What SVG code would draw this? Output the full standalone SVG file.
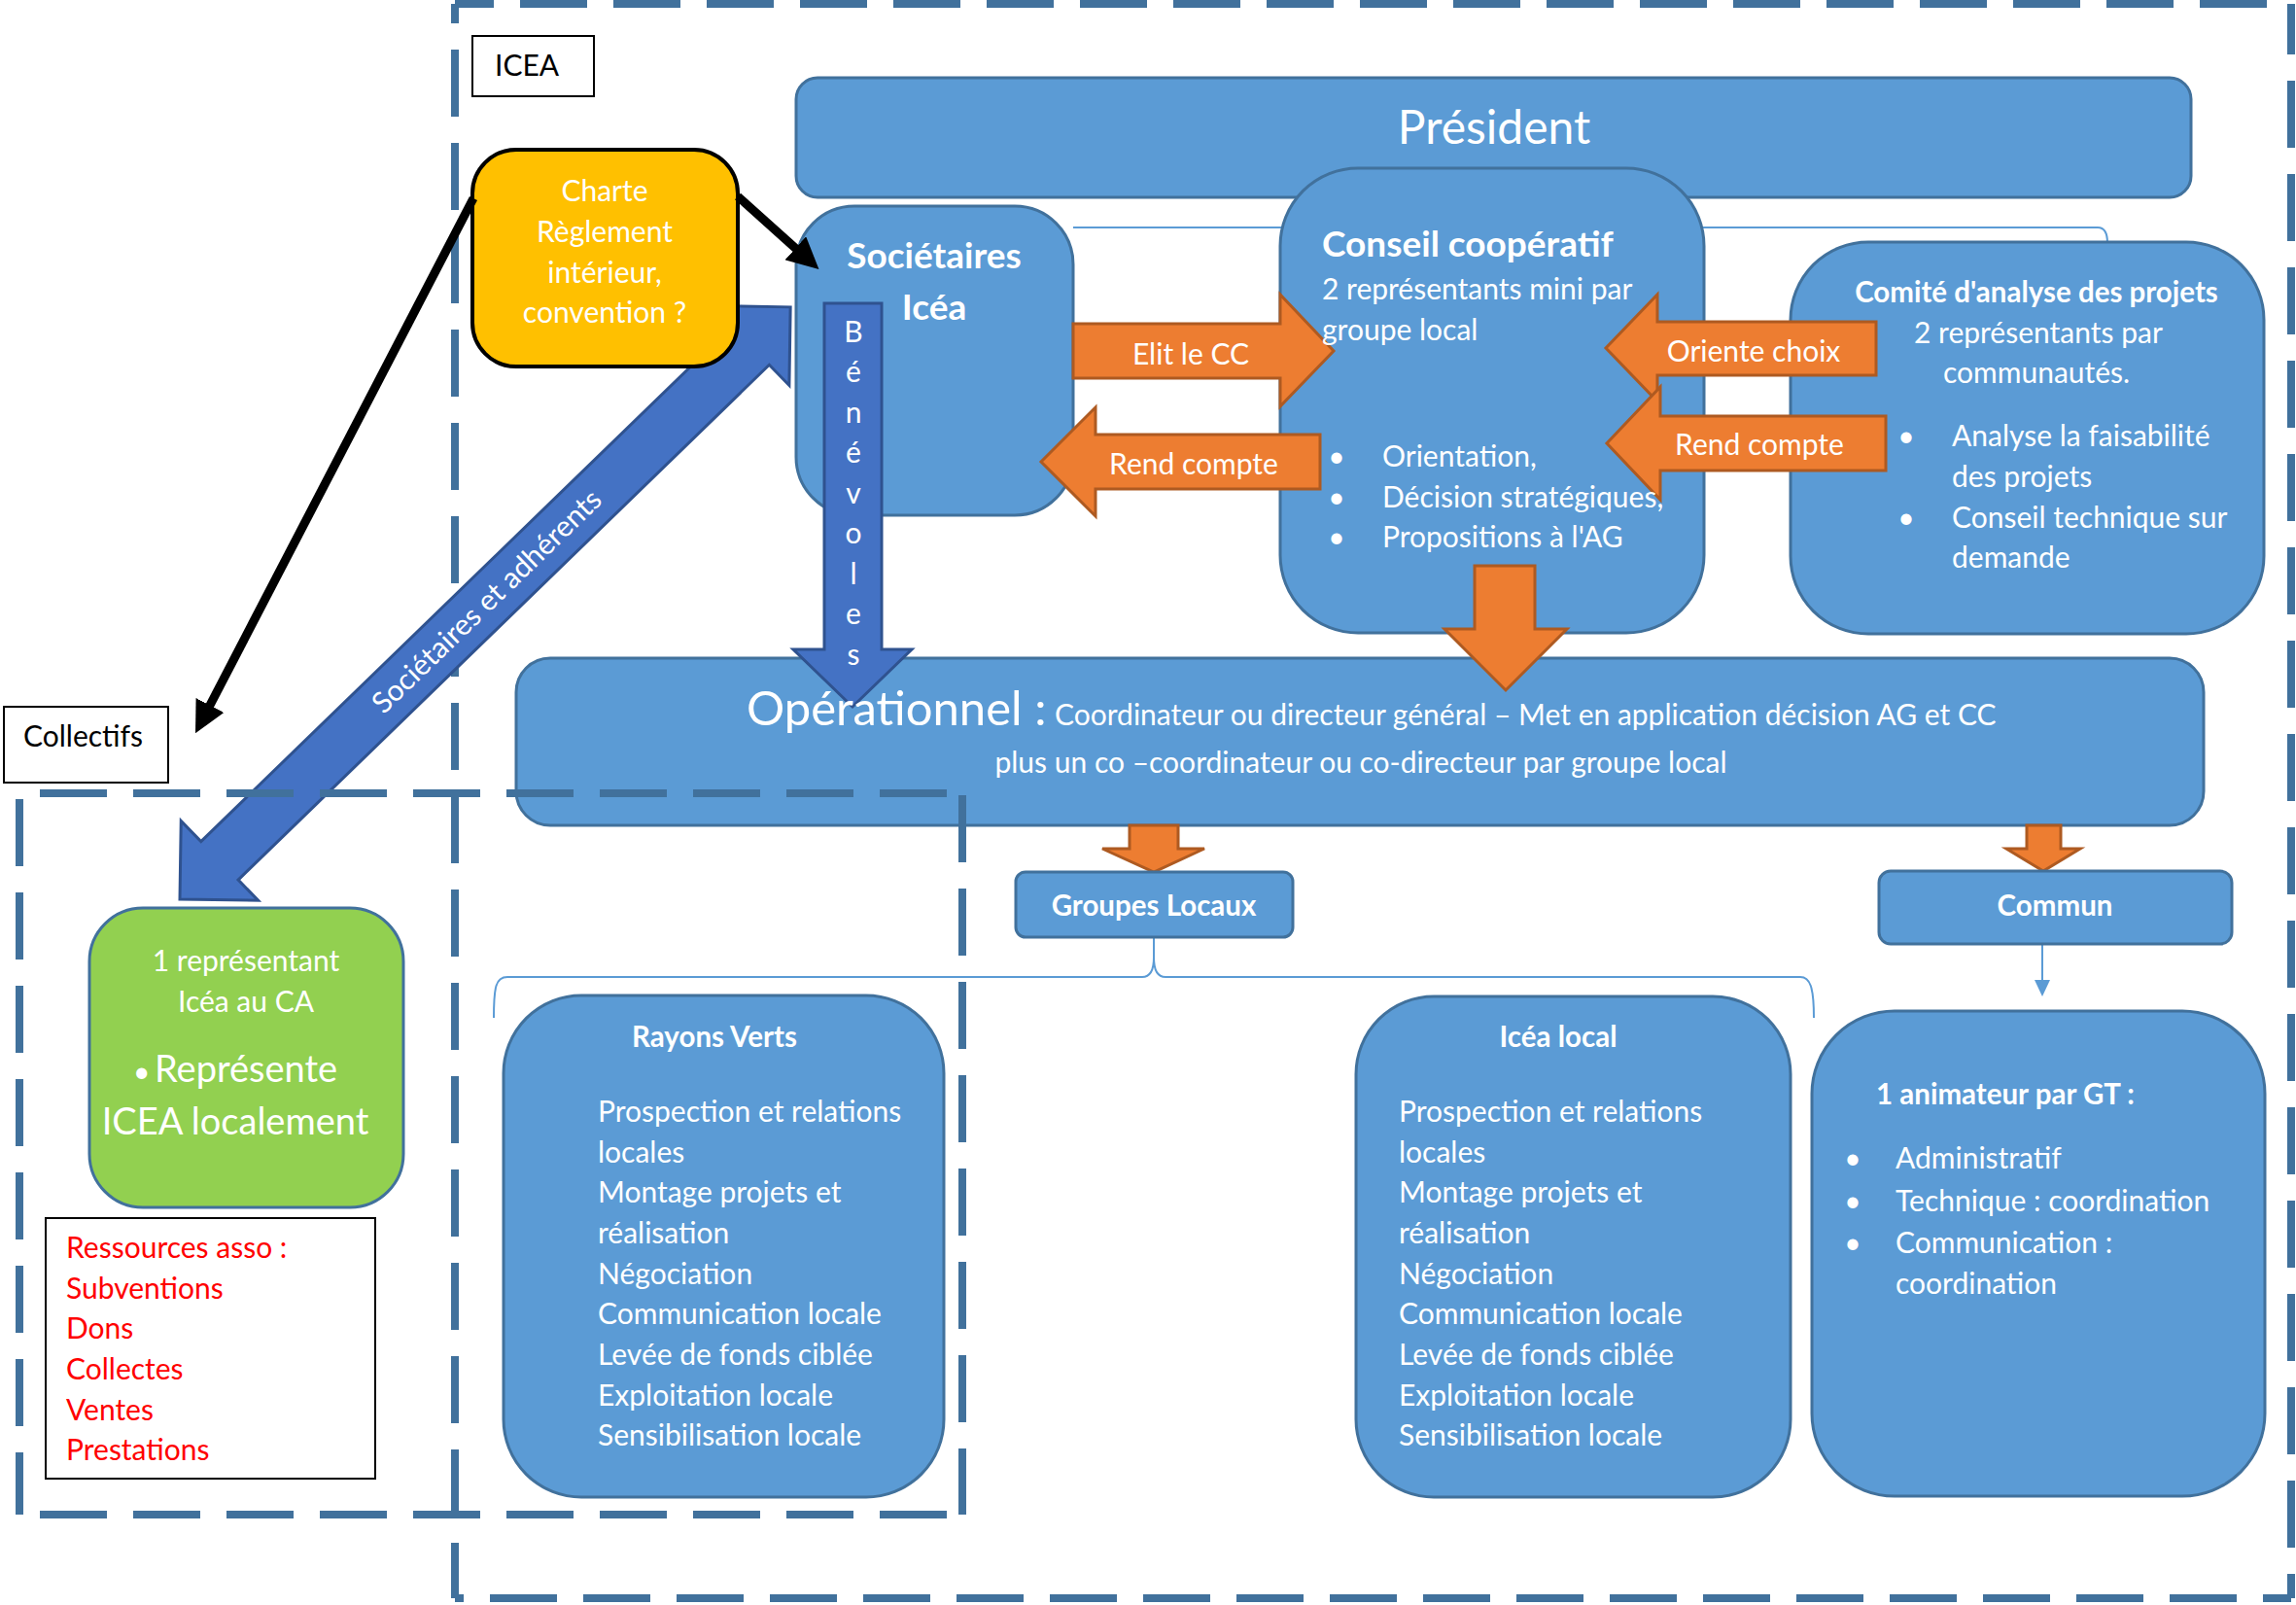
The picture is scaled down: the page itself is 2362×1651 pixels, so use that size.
<svg xmlns="http://www.w3.org/2000/svg" width="2362" height="1651" viewBox="0 0 2362 1651">
<defs>
<style>
text{font-family:Lato,"Liberation Sans",sans-serif;}
.w{fill:#fff;font-size:30px}
.wb{fill:#fff;font-size:29.5px;font-weight:bold}
.k{fill:#000;font-size:30px}
.r{fill:#f00;font-size:30px}
.m{text-anchor:middle}
.box{fill:#5B9BD5;stroke:#41719C;stroke-width:3}
.or{fill:#ED7D31;stroke:#AE5A21;stroke-width:3}
.db{fill:#4472C4;stroke:#2F528F;stroke-width:3}
.dash{fill:none;stroke:#41719C;stroke-width:8;stroke-dasharray:69 27}
.thin{fill:none;stroke:#5B9BD5;stroke-width:2}
.blk{fill:none;stroke:#000;stroke-width:9}
</style>
<marker id="ah" viewBox="0 0 10 10" refX="4" refY="5" markerWidth="3.6" markerHeight="3.6" orient="auto"><path d="M0,0 L10,5 L0,10 z" fill="#000"/></marker>
</defs>
<rect x="0" y="0" width="2362" height="1651" fill="#fff"/>

<g id="frame-icea">
<path class="dash" d="M468,4 H2357" stroke-dashoffset="29"/>
<path class="dash" d="M2357,4 V1644" stroke-dashoffset="17"/>
<path class="dash" d="M468,1644 H2357" stroke-dashoffset="60"/>
<path class="dash" d="M468,1644 V4" stroke-dashoffset="12"/>
</g>

<g id="connectors-back">
<path class="thin" d="M1104,234 L2158,234 Q2168,234 2168,250"/>
<path class="thin" d="M508,1047 C508,1015 510,1005 522,1005 L1175,1005 C1183,1005 1187,998 1187,985 L1187,964 M1187,985 C1187,998 1191,1005 1199,1005 L1852,1005 C1862,1005 1866,1015 1866,1047"/>
<line class="thin" x1="2101" y1="971" x2="2101" y2="1010"/>
<polygon points="2093,1008 2109,1008 2101,1025" fill="#5B9BD5"/>
</g>

<g id="node-icea-label">
<rect x="486" y="37" width="125" height="62" fill="#fff" stroke="#000" stroke-width="2"/>
<text class="k" x="509" y="78">ICEA</text>
</g>

<g id="node-president">
<rect class="box" x="819" y="80" width="1435" height="123" rx="22"/>
<text class="w m" x="1537" y="148" style="font-size:48px">Président</text>
</g>

<g id="node-societaires">
<rect class="box" x="819" y="212" width="285" height="318" rx="60"/>
<text class="wb m" x="961" y="276" style="font-size:37px">Sociétaires</text>
<text class="wb m" x="961" y="329" style="font-size:37px">Icéa</text>
</g>

<g id="node-conseil">
<rect class="box" x="1317" y="173" width="436" height="478" rx="80"/>
</g>

<g id="node-comite">
<rect class="box" x="1842" y="249" width="487" height="403" rx="80"/>
<text class="wb m" x="2095" y="311">Comité d'analyse des projets</text>
<text class="w" x="1969" y="353">2 représentants par</text>
<text class="w" x="1999" y="394">communautés.</text>
<text class="w m" x="1961" y="459">•</text>
<text class="w" x="2008" y="459">Analyse la faisabilité</text>
<text class="w" x="2008" y="501">des projets</text>
<text class="w m" x="1961" y="543">•</text>
<text class="w" x="2008" y="543">Conseil technique sur</text>
<text class="w" x="2008" y="584">demande</text>
</g>

<g id="node-operationnel">
<rect class="box" x="531" y="677" width="1736" height="172" rx="35"/>
</g>

<g id="arrow-societaires-adherents">
<g transform="translate(185,925) rotate(-44.12)">
<polygon class="db" points="0,0 57,-57 57,-27.5 818,-27.5 818,-57 875,0 818,57 818,27.5 57,27.5 57,57"/>
<text class="w m" x="440" y="10">Sociétaires et adhérents</text>
</g>
</g>

<g id="node-charte">
<rect x="486" y="154" width="273" height="223" rx="45" fill="#FFC000" stroke="#000" stroke-width="4"/>
<text class="w m" x="622" y="207">Charte</text>
<text class="w m" x="622" y="249">Règlement</text>
<text class="w m" x="622" y="291">intérieur,</text>
<text class="w m" x="622" y="332">convention ?</text>
</g>

<g id="connectors">
<polygon class="or" points="1104,333 1317,333 1317,303 1372,361 1317,418 1317,389 1104,389"/>
<text class="w m" x="1225" y="375">Elit le CC</text>
<polygon class="or" points="1358,447 1127,447 1127,419 1071,475 1127,531 1127,503 1358,503"/>
<text class="w m" x="1228" y="488">Rend compte</text>
<polygon class="or" points="1930,331 1705,331 1705,303 1652,358 1705,413 1705,386 1930,386"/>
<text class="w m" x="1804" y="372">Oriente choix</text>
<polygon class="or" points="1940,428 1708,428 1708,398 1653,456 1708,514 1708,484 1940,484"/>
<text class="w m" x="1810" y="468">Rend compte</text>
<polygon class="or" points="1517,582 1579,582 1579,647 1612,647 1549,710 1486,647 1517,647"/>
<polygon class="or" points="1162,849 1212,849 1212,873 1239,873 1187,897 1134,873 1162,873"/>
<polygon class="or" points="2085,849 2120,849 2120,873 2140,873 2102,896 2064,873 2085,873"/>
<polygon class="db" points="848,312 907,312 907,668 938,668 877,727 816,668 848,668"/>
<text class="w m" x="878" y="352">B</text>
<text class="w m" x="878" y="393">é</text>
<text class="w m" x="878" y="435">n</text>
<text class="w m" x="878" y="476">é</text>
<text class="w m" x="878" y="518">v</text>
<text class="w m" x="878" y="559">o</text>
<text class="w m" x="878" y="601">l</text>
<text class="w m" x="878" y="642">e</text>
<text class="w m" x="878" y="684">s</text>
<line class="blk" x1="487" y1="204" x2="210" y2="737" marker-end="url(#ah)"/>
<line class="blk" x1="759" y1="202" x2="828" y2="264" marker-end="url(#ah)"/>
</g>

<g id="node-conseil-text">
<text class="wb" x="1360" y="264" style="font-size:37px">Conseil coopératif</text>
<text class="w" x="1360" y="308">2 représentants mini par</text>
<text class="w" x="1360" y="350">groupe local</text>
<text class="w m" x="1375" y="480">•</text>
<text class="w" x="1422" y="480">Orientation,</text>
<text class="w m" x="1375" y="522">•</text>
<text class="w" x="1422" y="522">Décision stratégiques,</text>
<text class="w m" x="1375" y="563">•</text>
<text class="w" x="1422" y="563">Propositions à l'AG</text>
</g>

<g id="node-operationnel-text">
<text class="w" x="768" y="746"><tspan style="font-size:49px">Opérationnel :</tspan><tspan x="1085">Coordinateur ou directeur général – Met en application décision AG et CC</tspan></text>
<text class="w m" x="1400" y="795">plus un co –coordinateur ou co-directeur par groupe local</text>
</g>

<g id="node-groupes-locaux">
<rect class="box" x="1045" y="897" width="285" height="67" rx="10"/>
<text class="wb m" x="1187" y="942">Groupes Locaux</text>
</g>

<g id="node-commun">
<rect class="box" x="1933" y="896" width="363" height="75" rx="12"/>
<text class="wb m" x="2114" y="942">Commun</text>
</g>

<g id="node-rayons-verts">
<rect class="box" x="518" y="1024" width="453" height="516" rx="80"/>
<text class="wb m" x="735" y="1077">Rayons Verts</text>
<text class="w" x="615" y="1154">Prospection et relations</text>
<text class="w" x="615" y="1196">locales</text>
<text class="w" x="615" y="1237">Montage projets et</text>
<text class="w" x="615" y="1279">réalisation</text>
<text class="w" x="615" y="1321">Négociation</text>
<text class="w" x="615" y="1362">Communication locale</text>
<text class="w" x="615" y="1404">Levée de fonds ciblée</text>
<text class="w" x="615" y="1446">Exploitation locale</text>
<text class="w" x="615" y="1487">Sensibilisation locale</text>
</g>

<g id="node-icea-local">
<rect class="box" x="1395" y="1025" width="447" height="515" rx="80"/>
<text class="wb m" x="1603" y="1077">Icéa local</text>
<text class="w" x="1439" y="1154">Prospection et relations</text>
<text class="w" x="1439" y="1196">locales</text>
<text class="w" x="1439" y="1237">Montage projets et</text>
<text class="w" x="1439" y="1279">réalisation</text>
<text class="w" x="1439" y="1321">Négociation</text>
<text class="w" x="1439" y="1362">Communication locale</text>
<text class="w" x="1439" y="1404">Levée de fonds ciblée</text>
<text class="w" x="1439" y="1446">Exploitation locale</text>
<text class="w" x="1439" y="1487">Sensibilisation locale</text>
</g>

<g id="node-animateur">
<rect class="box" x="1864" y="1040" width="466" height="499" rx="85"/>
<text class="wb" x="1930" y="1136">1 animateur par GT :</text>
<text class="w m" x="1906" y="1202">•</text>
<text class="w" x="1950" y="1202">Administratif</text>
<text class="w m" x="1906" y="1246">•</text>
<text class="w" x="1950" y="1246">Technique : coordination</text>
<text class="w m" x="1906" y="1289">•</text>
<text class="w" x="1950" y="1289">Communication :</text>
<text class="w" x="1950" y="1331">coordination</text>
</g>

<g id="node-collectifs-label">
<rect x="4" y="727" width="169" height="78" fill="#fff" stroke="#000" stroke-width="2"/>
<text class="k" x="24" y="768">Collectifs</text>
</g>

<g id="node-representant">
<rect x="92" y="934" width="323" height="308" rx="55" fill="#92D050" stroke="#41719C" stroke-width="3"/>
<text class="w m" x="253" y="999">1 représentant</text>
<text class="w m" x="253" y="1041">Icéa au CA</text>
<text class="w" x="137" y="1113"><tspan>•</tspan><tspan x="159" style="font-size:38px">Représente</tspan></text>
<text class="w m" x="242" y="1167" style="font-size:38px">ICEA localement</text>
</g>

<g id="node-ressources">
<rect x="47" y="1253" width="339" height="268" fill="#fff" stroke="#000" stroke-width="2"/>
<text class="r" x="68" y="1294">Ressources asso :</text>
<text class="r" x="68" y="1336">Subventions</text>
<text class="r" x="68" y="1377">Dons</text>
<text class="r" x="68" y="1419">Collectes</text>
<text class="r" x="68" y="1461">Ventes</text>
<text class="r" x="68" y="1502">Prestations</text>
</g>

<g id="frame-collectifs">
<path class="dash" d="M20,816 H990" stroke-dashoffset="75"/>
<path class="dash" d="M20,1558 H990" stroke-dashoffset="75"/>
<path class="dash" d="M20,816 V1558" stroke-dashoffset="90"/>
<path class="dash" d="M990,816 V1558" stroke-dashoffset="94"/>
</g>
</svg>
